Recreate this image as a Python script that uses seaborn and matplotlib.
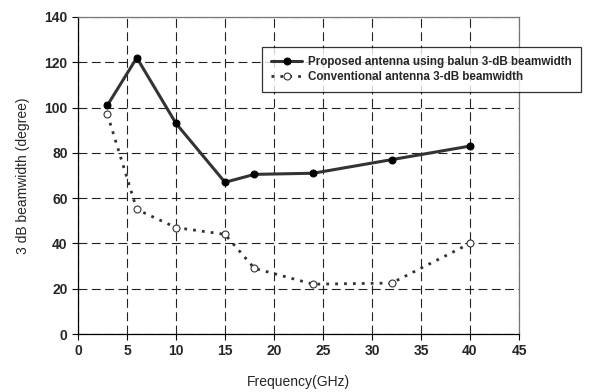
import matplotlib
matplotlib.use("Agg")
import matplotlib.pyplot as plt
import seaborn as sns
import pandas as pd

freq_proposed = [3, 6, 10, 15, 18, 24, 32, 40]
bw_proposed = [101, 122, 93, 67, 70.5, 71, 77, 83]
freq_conventional = [3, 6, 10, 15, 18, 24, 32, 40]
bw_conventional = [97, 55, 47, 44, 29, 22, 22.5, 40]

label_proposed = "Proposed antenna using balun 3-dB beamwidth"
label_conventional = "Conventional antenna 3-dB beamwidth"

sns.set_theme(style="white")
plt.rcParams["font.family"] = ["Liberation Sans", "DejaVu Sans"]

df_p = pd.DataFrame({"f": freq_proposed, "bw": bw_proposed})
df_c = pd.DataFrame({"f": freq_conventional, "bw": bw_conventional})

fig = plt.figure(figsize=(5.96, 3.92), dpi=100)
ax = fig.add_axes([78 / 596, 58 / 392, 441 / 596, 317 / 392])

sns.lineplot(data=df_p, x="f", y="bw", ax=ax, color="#333333", linewidth=2.2,
             marker="o", markersize=5, markerfacecolor="black",
             markeredgecolor="black", label=label_proposed, zorder=3)
sns.lineplot(data=df_c, x="f", y="bw", ax=ax, color="#333333", linewidth=2.0,
             linestyle=(0, (1, 2.2)), marker="o", markersize=5,
             markerfacecolor="white", markeredgecolor="#333333",
             markeredgewidth=0.8, label=label_conventional, zorder=3)

ax.set_xlim(0, 45)
ax.set_ylim(0, 140)
ax.set_xticks(range(0, 46, 5))
ax.set_yticks(range(0, 141, 20))
ax.grid(True, color="#222222", linestyle=(0, (8, 4)), linewidth=0.8)
ax.tick_params(axis="both", which="major", direction="out", length=4,
               width=0.8, color="black", labelsize=10, bottom=True, left=True)
for lbl in ax.get_xticklabels() + ax.get_yticklabels():
    lbl.set_fontweight("bold")
for side in ["left", "bottom"]:
    ax.spines[side].set_color("black")
    ax.spines[side].set_linewidth(0.9)
for side in ["top", "right"]:
    ax.spines[side].set_color("#777777")
    ax.spines[side].set_linewidth(0.9)

ax.set_xlabel("Frequency(GHz)", fontsize=10, labelpad=12)
ax.set_ylabel("3 dB beamwidth (degree)", fontsize=10, labelpad=10)

leg = ax.legend(loc="upper left", bbox_to_anchor=(262 / 596, 1 - 47 / 392),
                bbox_transform=fig.transFigure, borderaxespad=0,
                frameon=True, fancybox=False, edgecolor="black",
                fontsize=8.4, handlelength=2.6, borderpad=0.8,
                labelspacing=0.2, handletextpad=0.5)
leg.get_frame().set_linewidth(0.9)
for t in leg.get_texts():
    t.set_fontweight("bold")

fig.savefig("out.png", dpi=100)
